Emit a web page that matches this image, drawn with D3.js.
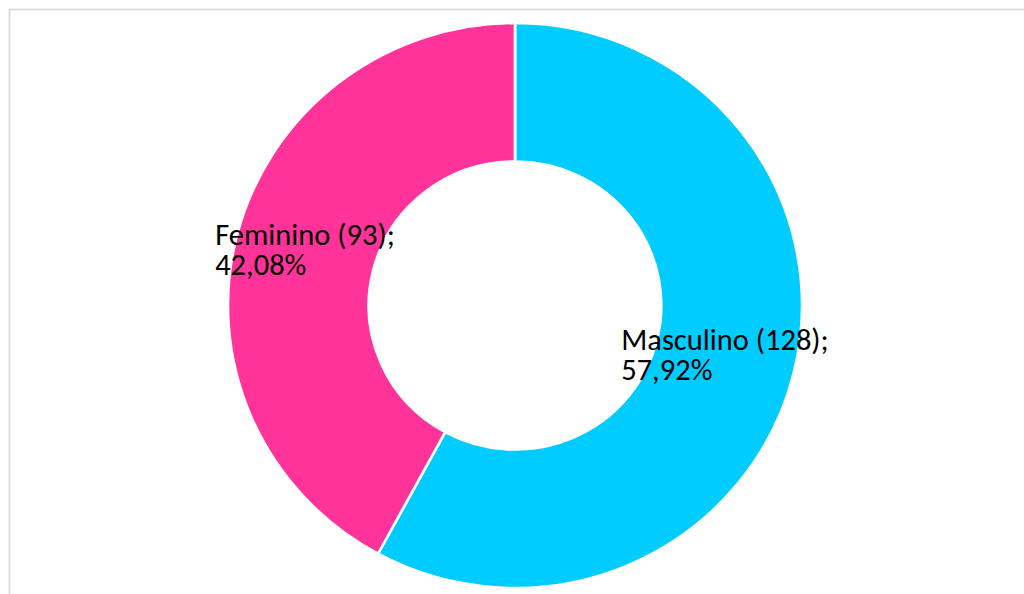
<!DOCTYPE html>
<html>
<head>
<meta charset="utf-8">
<script src="https://cdn.jsdelivr.net/npm/d3@7"></script>
<style>
  html, body { margin: 0; padding: 0; background: #fff; overflow: hidden; }
  svg { display: block; }
</style>
</head>
<body>
<svg id="chart" width="1024" height="594"></svg>
<script>
const categories = ["Masculino", "Feminino"];
const counts = [128, 93];
const percents = ["57,92%", "42,08%"];
const colors = ["#00CCFF", "#FF3399"];

const W = 1024, H = 594;
const svg = d3.select("#chart");

// chart frame (extends past the viewport on the right and bottom)
svg.append("rect")
  .attr("x", 9.5).attr("y", 9.5)
  .attr("width", 1040).attr("height", 620)
  .attr("fill", "#fff")
  .attr("stroke", "#d9d9d9")
  .attr("stroke-width", 1.75);

const cx = 515, cy = 305.5;
const rOuter = 282.5, rInner = 144;
const sx = 1.016;

const data = categories.map((c, i) => ({ name: c, value: counts[i], pct: percents[i], color: colors[i] }));

const pie = d3.pie().value(d => d.value).sort(null);
const arc = d3.arc().innerRadius(rInner).outerRadius(rOuter);
const arcs = pie(data);

const g = svg.append("g").attr("transform", `translate(${cx},${cy}) scale(${sx},1)`);
g.selectAll("path")
  .data(arcs)
  .join("path")
  .attr("d", arc)
  .attr("fill", d => d.data.color)
  .attr("stroke", "#fff")
  .attr("stroke-width", 2.6)
  .attr("stroke-linejoin", "round");

const fontSize = 30.5;
const lineH = 30;
const labels = svg.append("g")
  .attr("font-family", "Carlito, Calibri, Lato, sans-serif")
  .attr("font-size", fontSize)
  .attr("fill", "#000");

arcs.forEach(a => {
  const [px, py] = arc.centroid(a);
  const x0 = cx + px * sx, y0 = cy + py;
  const t = labels.append("text").attr("y", 0);
  const lines = [`${a.data.name} (${a.data.value});`, a.data.pct];
  const spans = lines.map((l, i) => t.append("tspan").attr("x", 0).attr("dy", i === 0 ? 0 : lineH).text(l));
  const w = d3.max(spans, s => s.node().getComputedTextLength());
  // block centered on the centroid, lines left-aligned
  const baseline1 = y0 - 8;
  t.attr("transform", `translate(${x0 - w / 2},${baseline1})`);
});
</script>
</body>
</html>
